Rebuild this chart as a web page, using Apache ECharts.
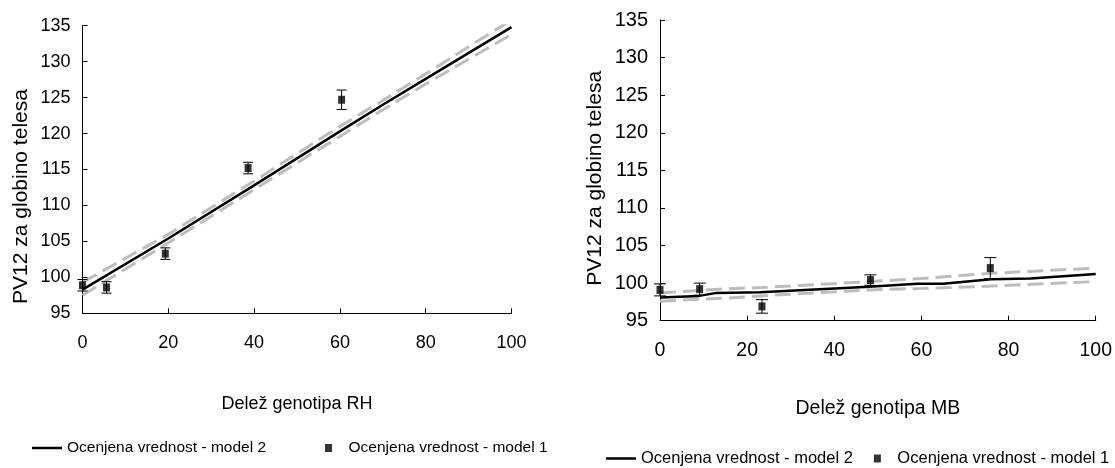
<!DOCTYPE html>
<html>
<head>
<meta charset="utf-8">
<script src="https://cdn.jsdelivr.net/npm/echarts@6/dist/echarts.min.js"></script>
<style>
  html, body { margin: 0; padding: 0; background: #fff; }
  #chart { width: 1115px; height: 468px; }
</style>
</head>
<body>
<div id="chart"></div>
<script>
const MODEL_1 = "Ocenjena vrednost - model 1";
const MODEL_2 = "Ocenjena vrednost - model 2";
const Y_NAME = "PV12 za globino telesa";
const RH_NAME = "Delež genotipa RH";
const MB_NAME = "Delež genotipa MB";

const xTicks = [0, 20, 40, 60, 80, 100];
const yTicks = [95, 100, 105, 110, 115, 120, 125, 130, 135];

// RH (left panel)
const rhShare = [0, 5.6, 19.3, 38.6, 60.4];
const rhModel1 = [98.9, 98.6, 103.3, 115.2, 124.7];
const rhError = [0.8, 0.8, 0.8, 0.8, 1.35];
const rhLineX = [0, 20, 40, 60, 70, 80, 100];
const rhModel2 = [98.3, 105.4, 112.8, 120.3, 124.0, 127.6, 134.8];
const rhUpper = [99.3, 106.0, 113.4, 121.0, 124.6, 128.3, 135.8];
const rhLower = [97.5, 104.8, 112.2, 119.6, 123.3, 126.9, 133.8];

// MB (right panel)
const mbShare = [0, 9.1, 23.4, 48.3, 75.8];
const mbModel1 = [99.1, 99.2, 96.9, 100.4, 102.0];
const mbError = [0.8, 0.8, 0.9, 0.7, 1.4];
const mbLineX = [0, 9, 13, 23, 48, 59, 65, 76, 85, 100];
const mbModel2 = [98.1, 98.3, 98.7, 98.8, 99.5, 99.9, 99.9, 100.5, 100.6, 101.2];
const mbBandX = [0, 15, 23, 48, 60, 76, 100];
const mbUpper = [98.7, 99.25, 99.4, 100.2, 100.6, 101.3, 102.0];
const mbLower = [97.6, 98.0, 98.3, 99.1, 99.3, 99.6, 100.2];

const FONT = "Liberation Sans, Arial, sans-serif";
const LINE_ICON = "path://M0,0L30,0L30,2.5L0,2.5Z";
const SQUARE_ICON = "path://M0,0L7,0L7,8L0,8Z";
const chart = echarts.init(document.getElementById("chart"));

function pairs(xs, ys) {
  return xs.map((x, i) => [x, ys[i]]);
}

function errorRows(xs, ys, errs) {
  return xs.map((x, i) => [x, ys[i] - errs[i], ys[i] + errs[i]]);
}

function renderErrorBar(capHalf) {
  return function (params, api) {
    const x = api.value(0);
    const top = api.coord([x, api.value(2)]);
    const bottom = api.coord([x, api.value(1)]);
    const style = { stroke: "#000", lineWidth: 1 };
    return {
      type: "group",
      children: [
        { type: "line", shape: { x1: top[0], y1: top[1], x2: bottom[0], y2: bottom[1] }, style },
        { type: "line", shape: { x1: top[0] - capHalf, y1: top[1], x2: top[0] + capHalf, y2: top[1] }, style },
        { type: "line", shape: { x1: bottom[0] - capHalf, y1: bottom[1], x2: bottom[0] + capHalf, y2: bottom[1] }, style },
      ],
    };
  };
}

function xAxis(gridIndex, name, fontSize, margin, nameGap) {
  return {
    type: "value",
    gridIndex,
    min: xTicks[0],
    max: xTicks[xTicks.length - 1],
    interval: xTicks[1] - xTicks[0],
    name,
    nameLocation: "middle",
    nameGap,
    nameTextStyle: { color: "#000", fontFamily: FONT, fontSize: fontSize },
    axisLine: { lineStyle: { color: "#000", width: 1 } },
    axisTick: { inside: true, length: 5, lineStyle: { color: "#000" } },
    axisLabel: { color: "#000", fontFamily: FONT, fontSize, margin },
    splitLine: { show: false },
  };
}

function yAxis(gridIndex, fontSize, nameGap, namePadding) {
  return {
    type: "value",
    gridIndex,
    min: yTicks[0],
    max: yTicks[yTicks.length - 1],
    interval: yTicks[1] - yTicks[0],
    name: Y_NAME,
    nameLocation: "middle",
    nameGap,
    nameTextStyle: { color: "#000", fontFamily: FONT, fontSize: 21, padding: namePadding },
    axisLine: { show: true, lineStyle: { color: "#000", width: 1 } },
    axisTick: { show: true, inside: true, length: 5, lineStyle: { color: "#000" } },
    axisLabel: { color: "#000", fontFamily: FONT, fontSize, margin: 12 },
    splitLine: { show: false },
  };
}

function panelSeries(index, lineX, model2, bandX, upper, lower, share, model1, errs, capHalf) {
  const band = {
    type: "line",
    xAxisIndex: index,
    yAxisIndex: index,
    symbol: "none",
    silent: true,
    z: 1,
    lineStyle: { color: "#bdbdbd", width: 3, type: [16, 7] },
  };
  return [
    { ...band, name: "band-upper-" + index, data: pairs(bandX, upper) },
    { ...band, name: "band-lower-" + index, data: pairs(bandX, lower) },
    {
      name: MODEL_2,
      type: "line",
      xAxisIndex: index,
      yAxisIndex: index,
      symbol: "none",
      z: 2,
      color: "#000",
      lineStyle: { color: "#000", width: 2.5 },
      data: pairs(lineX, model2),
    },
    {
      type: "custom",
      name: "error-" + index,
      xAxisIndex: index,
      yAxisIndex: index,
      z: 3,
      renderItem: renderErrorBar(capHalf),
      encode: { x: 0, y: [1, 2] },
      data: errorRows(share, model1, errs),
    },
    {
      name: MODEL_1,
      type: "scatter",
      xAxisIndex: index,
      yAxisIndex: index,
      symbol: "rect",
      symbolSize: [7, 8],
      z: 4,
      itemStyle: { color: "#000" },
      data: pairs(share, model1),
    },
  ];
}

function legend(left, top, fontSize, itemGap) {
  return {
    left,
    top,
    width: 560,
    padding: 0,
    itemGap,
    itemWidth: 30,
    itemHeight: 8,
    selectedMode: false,
    symbolKeepAspect: true,
    textStyle: { color: "#000", fontFamily: FONT, fontSize },
    data: [
      { name: MODEL_2, icon: LINE_ICON },
      { name: MODEL_1, icon: SQUARE_ICON },
    ],
  };
}

chart.setOption({
  animation: false,
  backgroundColor: "#fff",
  grid: [
    { left: 82.5, top: 25.7, width: 429, height: 287.6 },
    { left: 660, top: 20, width: 441, height: 300.7 },
  ],
  xAxis: [xAxis(0, RH_NAME, 18, 21, 82), xAxis(1, MB_NAME, 19.5, 20, 78)],
  yAxis: [yAxis(0, 18, 51, [0, 54, 0, 0]), yAxis(1, 20, 54, [0, 16, 0, 0])],
  legend: [legend(32, 440, 15.5, 59), legend(606, 450, 16.5, 21)],
  series: [
    ...panelSeries(0, rhLineX, rhModel2, rhLineX, rhUpper, rhLower, rhShare, rhModel1, rhError, 5),
    ...panelSeries(1, mbLineX, mbModel2, mbBandX, mbUpper, mbLower, mbShare, mbModel1, mbError, 6),
  ],
});

window.addEventListener("resize", () => chart.resize());
</script>
</body>
</html>
